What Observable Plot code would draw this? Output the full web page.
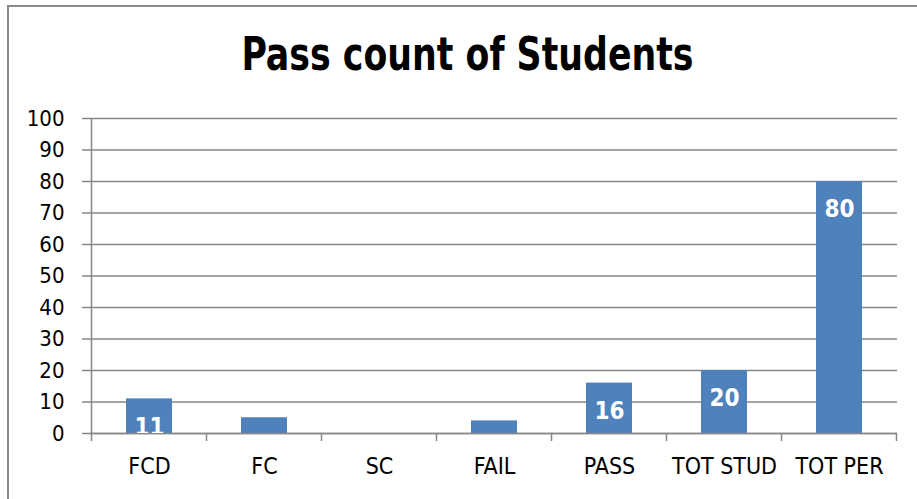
<!DOCTYPE html>
<html>
<head>
<meta charset="utf-8">
<script src="https://cdn.jsdelivr.net/npm/d3@7"></script>
<script src="https://cdn.jsdelivr.net/npm/@observablehq/plot@0.6"></script>
<style>
  html, body { margin: 0; padding: 0; background: #fff; }
  body { width: 917px; height: 499px; overflow: hidden; position: relative;
         font-family: "DejaVu Sans Condensed", "DejaVu Sans", sans-serif; font-stretch: condensed; }
  #border { position: absolute; left: 7px; top: 5px; width: 1000px; height: 1000px;
            border-left: 2px solid #8a8a8a; border-top: 2px solid #8a8a8a; box-sizing: border-box; }
  #title { position: absolute; left: 0; top: 24px; width: 935px; text-align: center;
           font-size: 46px; font-weight: bold; color: #000; line-height: 60px;
           font-family: "DejaVu Sans Condensed", "DejaVu Sans", sans-serif; font-stretch: condensed;
           transform: scaleX(0.84); transform-origin: 467.5px 50%; }
  #chart { position: absolute; left: 0; top: 100px; }
  #chart svg text { font-stretch: condensed; }
</style>
</head>
<body>
<div id="border"></div>
<div id="title">Pass count of Students</div>
<div id="chart"></div>
<script>
const categories = ["FCD", "FC", "SC", "FAIL", "PASS", "TOT STUD", "TOT PER"];
const values = [11, 5, 0, 4, 16, 20, 80];
const yTicks = [0, 10, 20, 30, 40, 50, 60, 70, 80, 90, 100];

const data = categories.map((c, i) => ({category: c, value: values[i]}));
// labels of the shortest bars fall entirely below the baseline in the reference, so only visible ones are drawn
const labelData = data.filter(d => d.value >= 10);
const PAD = 0.6;
const gray = "#878787";
const font = '"DejaVu Sans Condensed", "DejaVu Sans", sans-serif';

const plot = Plot.plot({
  width: 917,
  height: 399,
  marginLeft: 90,
  marginRight: 20,
  marginTop: 18,
  marginBottom: 66,
  style: {fontFamily: font, background: "transparent", overflow: "visible"},
  x: {domain: categories, padding: PAD, paddingOuter: PAD / 2, label: null},
  y: {domain: [0, 100], label: null},
  marks: [
    Plot.gridY(yTicks, {stroke: gray, strokeOpacity: 1, strokeWidth: 1.5}),
    Plot.axisY(yTicks, {tickSize: 8, stroke: gray, strokeWidth: 1.5, tickPadding: 18, fontSize: 22, fill: "#000", label: null}),
    Plot.axisX({tickSize: 0, tickPadding: 24, fontSize: 23, fill: "#000", label: null}),
    Plot.barY(data, {x: "category", y: "value", fill: "#4f81bd"}),
    Plot.ruleY([0], {stroke: gray, strokeWidth: 1.5}),
    Plot.text(labelData, {x: "category", y: "value", text: d => String(d.value), dy: 28,
      fill: "#fff", fontWeight: "bold", fontSize: 24, clip: true})
  ]
});

document.getElementById("chart").appendChild(plot);

// category boundary ticks and vertical axis line, from the library's x and y scales
const sx = plot.scale("x");
const sy = plot.scale("y");
const step = sx.step;
const starts = categories.map(c => sx.apply(c));
const bounds = starts.map(s => s - step * PAD / 2);
bounds.push(starts[starts.length - 1] + sx.bandwidth + step * PAD / 2);
const y0 = sy.apply(0), y100 = sy.apply(100);
const svg = d3.select(plot);
const g = svg.append("g").attr("stroke", gray).attr("stroke-width", 1.5);
g.append("line").attr("x1", bounds[0]).attr("x2", bounds[0]).attr("y1", y100).attr("y2", y0 + 8);
bounds.slice(1).forEach(b => {
  g.append("line").attr("x1", b).attr("x2", b).attr("y1", y0).attr("y2", y0 + 8);
});
</script>
</body>
</html>
